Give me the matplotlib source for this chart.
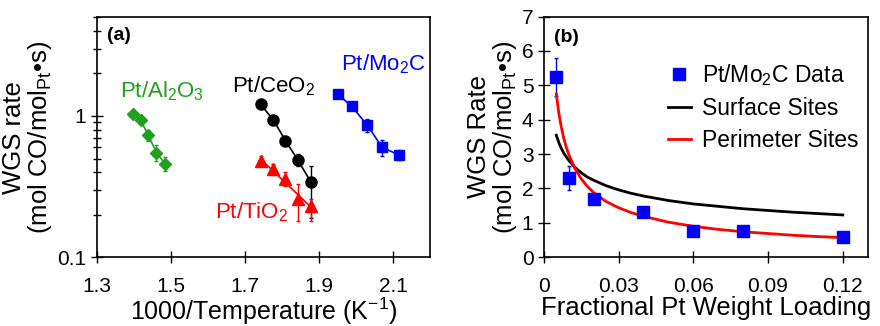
import numpy as np
import matplotlib.pyplot as plt
from matplotlib.lines import Line2D

plt.rcParams['font.family'] = ['Liberation Sans', 'DejaVu Sans']
plt.rcParams['mathtext.fontset'] = 'custom'
plt.rcParams['mathtext.rm'] = 'Liberation Sans'
plt.rcParams['mathtext.it'] = 'Liberation Sans:italic'
plt.rcParams['mathtext.bf'] = 'Liberation Sans:bold'

# (a) Arrhenius data, 1000/T (1/K) vs WGS rate
al_x = [1.398, 1.418, 1.439, 1.461, 1.484]
al_y = [1.04, 0.94, 0.73, 0.55, 0.46]
al_err = [0.05, 0.05, 0.06, 0.07, 0.05]

ce_x = [1.742, 1.776, 1.809, 1.842, 1.878]
ce_y = [1.21, 0.94, 0.67, 0.49, 0.34]
ce_err_lo = [0.0, 0.03, 0.03, 0.05, 0.15]
ce_err_hi = [0.0, 0.03, 0.03, 0.05, 0.10]

ti_x = [1.742, 1.776, 1.807, 1.842, 1.878]
ti_y = [0.48, 0.42, 0.36, 0.26, 0.23]
ti_err_lo = [0.04, 0.04, 0.04, 0.08, 0.05]
ti_err_hi = [0.04, 0.04, 0.04, 0.07, 0.03]

mo_x = [1.950, 1.988, 2.030, 2.070, 2.115]
mo_y = [1.43, 1.17, 0.86, 0.60, 0.53]
mo_err = [0.03, 0.03, 0.09, 0.08, 0.04]

# (b) rate vs fractional Pt loading
load_x = [0.005, 0.01, 0.02, 0.04, 0.06, 0.08, 0.12]
load_y = [5.25, 2.30, 1.70, 1.33, 0.77, 0.77, 0.58]
load_err = [0.55, 0.35, 0.15, 0.05, 0.03, 0.03, 0.03]

curve_x = [0.005, 0.006, 0.007, 0.008, 0.009, 0.01, 0.0125, 0.015, 0.0175, 0.02,
           0.025, 0.03, 0.035, 0.04, 0.05, 0.06, 0.07, 0.08, 0.09, 0.10, 0.11, 0.12]
surface_y = [3.55, 3.34, 3.17, 3.03, 2.92, 2.82, 2.61, 2.46, 2.33, 2.24,
             2.08, 1.96, 1.86, 1.78, 1.65, 1.55, 1.48, 1.41, 1.36, 1.31, 1.27, 1.23]
perimeter_y = [4.75, 4.20, 3.79, 3.46, 3.20, 2.99, 2.58, 2.28, 2.06, 1.88,
               1.62, 1.44, 1.30, 1.19, 1.02, 0.90, 0.81, 0.74, 0.69, 0.64, 0.60, 0.57]

green = '#1ea01e'
red = '#ff0000'
blue = '#0000ff'

fig = plt.figure(figsize=(8.8, 3.26), dpi=100)
ax1 = fig.add_axes([0.110, 0.211, 0.379, 0.736])
ax2 = fig.add_axes([0.618, 0.211, 0.368, 0.738])

# panel (a)
ax1.errorbar(al_x, al_y, yerr=al_err, color=green, marker='D', ms=6.5, lw=1.2,
             capsize=1.5, elinewidth=1)
ax1.errorbar(ce_x, ce_y, yerr=[ce_err_lo, ce_err_hi], color='black', marker='o', ms=8,
             lw=1.2, capsize=1.5, elinewidth=1)
ax1.errorbar(ti_x, ti_y, yerr=[ti_err_lo, ti_err_hi], color=red, marker='^', ms=8,
             ls='none', capsize=1.5, elinewidth=1)
fit = np.polyfit(ti_x, np.log10(ti_y), 1)
fx = np.array([ti_x[0], ti_x[-1]])
ax1.plot(fx, 10 ** np.polyval(fit, fx), color=red, lw=1.2)
ax1.errorbar(mo_x, mo_y, yerr=mo_err, color=blue, marker='s', ms=7.5, lw=1.2,
             capsize=1.5, elinewidth=1)

ax1.set_yscale('log')
ax1.set_xlim(1.3, 2.2)
ax1.set_ylim(0.1, 5)
ax1.set_xticks([1.3, 1.5, 1.7, 1.9, 2.1])
ax1.set_xticklabels(['1.3', '1.5', '1.7', '1.9', '2.1'])
ax1.set_yticks([0.1, 1])
ax1.set_yticklabels(['0.1', '1'])
ax1.tick_params(which='both', direction='inout', length=8, width=1, labelsize=15)
ax1.tick_params(which='minor', length=6, labelleft=False)
ax1.tick_params(axis='x', pad=10)
ax1.set_xlabel('1000/Temperature (K$^{-1}$)', fontsize=18, labelpad=0)
ax1.set_ylabel('WGS rate\n(mol CO/mol$_{\\mathrm{Pt}}$•s)', fontsize=18.5, labelpad=2,
               linespacing=1.0)

ax1.text(1.477, 1.5, 'Pt/Al$_2$O$_3$', color=green, fontsize=16, ha='center', va='center')
ax1.text(1.778, 1.63, 'Pt/CeO$_2$', color='black', fontsize=16, ha='center', va='center')
ax1.text(2.074, 2.33, 'Pt/Mo$_2$C', color=blue, fontsize=16, ha='center', va='center')
ax1.text(1.718, 0.21, 'Pt/TiO$_2$', color=red, fontsize=16, ha='center', va='center')
ax1.text(0.03, 0.96, '(a)', transform=ax1.transAxes, fontsize=14, fontweight='bold',
         va='top', ha='left')

# panel (b)
ax2.errorbar(load_x, load_y, yerr=load_err, color=blue, marker='s', ms=8.5, ls='none',
             capsize=1.5, elinewidth=1)
ax2.plot(curve_x, surface_y, color='black', lw=2)
ax2.plot(curve_x, perimeter_y, color=red, lw=2)

ax2.set_xlim(0, 0.13)
ax2.set_ylim(0, 7)
ax2.set_xticks([0, 0.03, 0.06, 0.09, 0.12])
ax2.set_xticklabels(['0', '0.03', '0.06', '0.09', '0.12'])
ax2.set_yticks(range(0, 8))
ax2.tick_params(which='both', direction='inout', length=8, width=1, labelsize=15)
ax2.tick_params(axis='x', pad=10)
ax2.set_xlabel('Fractional Pt Weight Loading', fontsize=18.5, labelpad=0)
ax2.set_ylabel('WGS Rate\n(mol CO/mol$_{\\mathrm{Pt}}$•s)', fontsize=18.5, labelpad=2,
               linespacing=1.0)
ax2.text(0.03, 0.95, '(b)', transform=ax2.transAxes, fontsize=14, fontweight='bold',
         va='top', ha='left')

handles = [Line2D([], [], color=blue, marker='s', ms=8, ls='none'),
           Line2D([], [], color='black', lw=2),
           Line2D([], [], color=red, lw=2)]
labels = ['Pt/Mo$_2$C Data', 'Surface Sites', 'Perimeter Sites']
ax2.legend(handles, labels, loc='upper right', bbox_to_anchor=(1.015, 0.87),
           frameon=False, fontsize=16.5, handlelength=1.0, handletextpad=0.5,
           labelspacing=0.4, borderaxespad=0.2)

for ax in (ax1, ax2):
    for s in ax.spines.values():
        s.set_linewidth(1.2)

fig.savefig('out.png', dpi=100)
